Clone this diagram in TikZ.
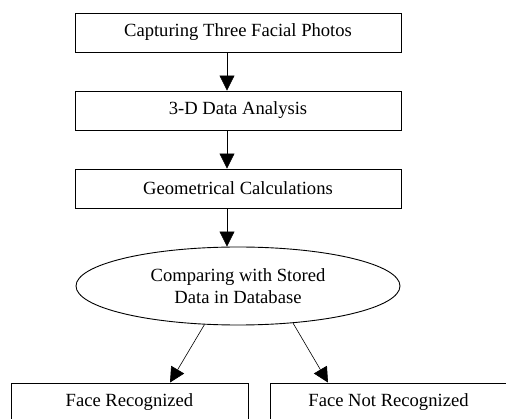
\documentclass[tikz,border=0pt]{standalone}
\usepackage{fontspec}
\setmainfont{Liberation Serif}
\usetikzlibrary{shapes.geometric,arrows.meta}
\tikzset{
    step-box/.style = {draw, rectangle, line width=0.9pt, minimum width=326pt, minimum height=39pt, inner sep=0pt},
    result-box/.style = {step-box, minimum width=237pt},
    compare-oval/.style = {draw, ellipse, line width=0.9pt, minimum width=324pt, minimum height=78pt, inner sep=0pt, align=center},
    flow-arrow/.style = {-{Triangle[length=15pt,width=15pt]}, line width=0.6pt},
}

\begin{document}
\begin{tikzpicture}[x=1pt, y=-1pt, font=\fontsize{18.6}{21.5}\selectfont]
\useasboundingbox (0,0) rectangle (506,419);
\clip (0,0) rectangle (506,419);
\node [step-box] (capture) at (238,32.5) {Capturing Three Facial Photos};
\node [step-box] (analysis) at (238,110.5) {3-D Data Analysis};
\node [step-box] (geometry) at (238,188.5) {Geometrical Calculations};
\node [compare-oval] (compare) at (238,286) {Comparing with Stored\\Data in Database};
\node [result-box] (recognized) at (129.5,402.5) {Face Recognized};
\node [result-box] (notrecognized) at (388.5,402.5) {Face Not Recognized};
% arrows
\draw [flow-arrow] ([xshift=-11pt]capture.south) -- ([xshift=-11pt]analysis.north);
\draw [flow-arrow] ([xshift=-11pt]analysis.south) -- ([xshift=-11pt]geometry.north);
\draw [flow-arrow] ([xshift=-11pt]geometry.south) -- ([xshift=-11pt]compare.north);
\draw [flow-arrow] (compare.229) -- ([xshift=40.5pt]recognized.north);
\draw [flow-arrow] (compare.326) -- ([xshift=-60.5pt]notrecognized.north);
\end{tikzpicture}
\end{document}
